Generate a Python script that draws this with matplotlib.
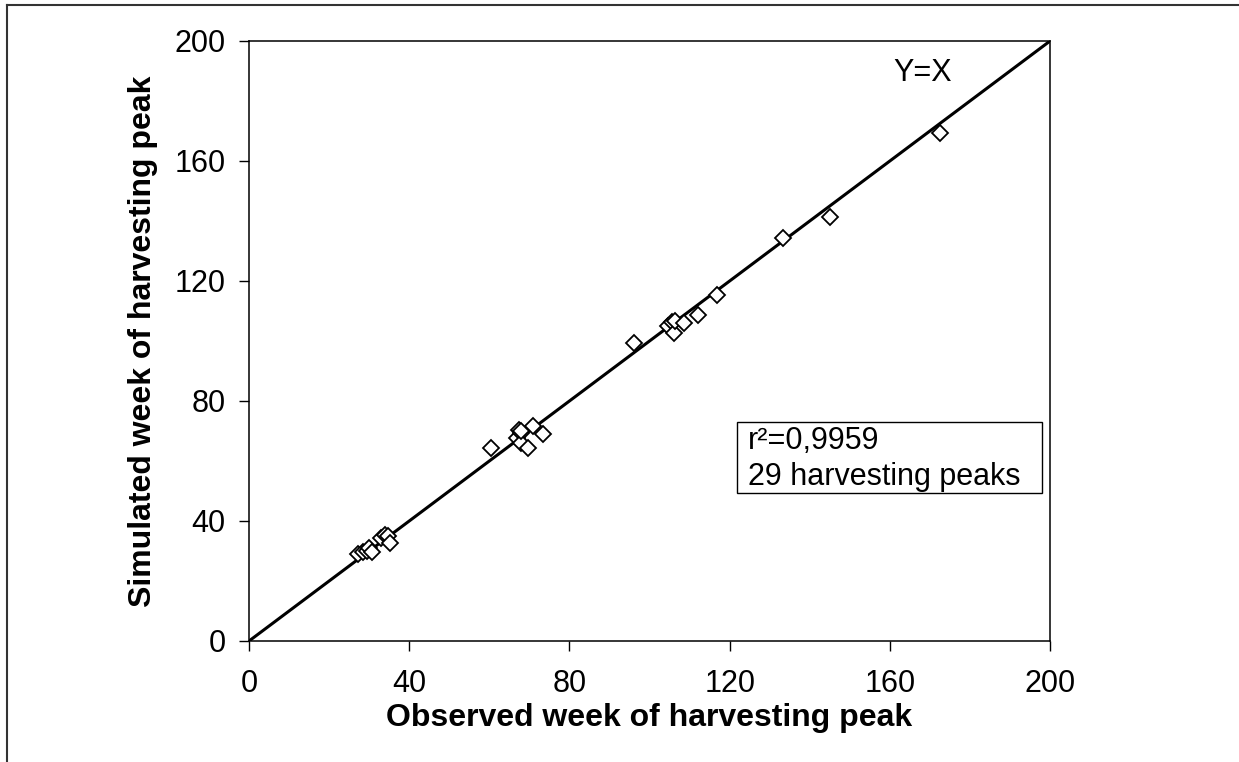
import numpy as np
import matplotlib
matplotlib.use('Agg')
import matplotlib.pyplot as plt
from matplotlib.patches import Rectangle
from matplotlib.lines import Line2D

plt.rcParams['font.family'] = ['Liberation Sans', 'DejaVu Sans']

# observed vs simulated week of harvesting peak
observed = [27.3, 28.5, 29.5, 30.0, 30.6, 33.0, 34.0, 34.8, 35.2,
            60.3, 66.8, 67.5, 67.8, 68.0, 69.7, 70.8, 73.3, 68.0,
            96.0, 104.7, 105.5, 106.0, 106.3, 108.5, 112.2, 116.8,
            133.4, 145.1, 172.5]
simulated = [29.0, 29.8, 30.0, 30.9, 29.6, 34.2, 35.3, 35.0, 32.6,
             64.2, 67.6, 70.3, 69.3, 65.9, 64.2, 71.5, 68.9, 70.0,
             99.2, 105.0, 106.4, 102.6, 106.8, 105.9, 108.7, 115.3,
             134.2, 141.4, 169.4]
ticks = [0, 40, 80, 120, 160, 200]
stats_text = 'r²=0,9959\n29 harvesting peaks'

fig = plt.figure(figsize=(12.39, 7.62), dpi=100)
ax = fig.add_axes([0.201, 0.1588, 0.6465, 0.7874])

# outer frame of the original picture (left and top visible)
fig.add_artist(Line2D([7 / 1239, 7 / 1239], [0, 1 - 5 / 762], transform=fig.transFigure,
                      color='#333333', lw=1.5))
fig.add_artist(Line2D([7 / 1239, 1], [1 - 5 / 762, 1 - 5 / 762], transform=fig.transFigure,
                      color='#333333', lw=1.5))

ax.plot([0, 200], [0, 200], color='black', lw=2.2, zorder=2)
ax.plot(observed, simulated, linestyle='none', marker='D', ms=8,
        mfc='white', mec='black', mew=1.3, zorder=3)

ax.set_xlim(0, 200)
ax.set_ylim(0, 200)
ax.set_xticks(ticks)
ax.set_yticks(ticks)
ax.tick_params(direction='out', length=7, width=1, labelsize=22)
ax.tick_params(axis='x', pad=13)
ax.tick_params(axis='y', pad=10)
for s in ax.spines.values():
    s.set_linewidth(1.1)

ax.set_xlabel('Observed week of harvesting peak', fontsize=23, fontweight='bold', labelpad=3)
ax.set_ylabel('Simulated week of harvesting peak', fontsize=23, fontweight='bold', labelpad=12)

ax.text(160.8, 189.3, 'Y=X', fontsize=22, ha='left', va='center')

ax.add_patch(Rectangle((121.8, 49.3), 76.2, 23.7, fill=False, ec='black', lw=1, zorder=4))
ax.text(124.5, 71.5, stats_text, fontsize=22, ha='left', va='top', linespacing=1.25, zorder=5)

fig.savefig('out.png', dpi=100)
